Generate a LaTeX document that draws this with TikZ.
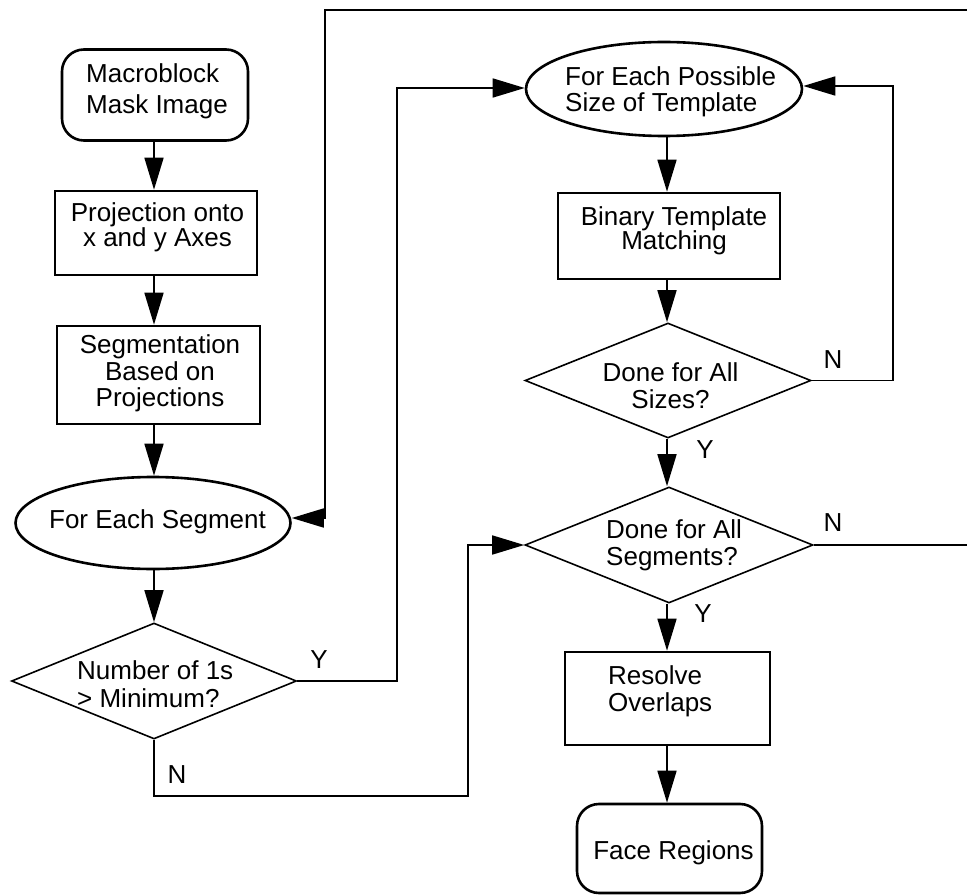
\documentclass[tikz,border=0pt]{standalone}
\usepackage{fontspec}
\setmainfont{Liberation Sans}
\usetikzlibrary{shapes.geometric,arrows.meta}
\newcommand\fsz[1]{\fontsize{26}{#1}\selectfont}
\begin{document}
\begin{tikzpicture}[x=1pt,y=-1pt,
  shp/.style={draw, line width=2.6pt, inner sep=0pt},
  boxs/.style={shp, rectangle},
  term/.style={shp, rectangle, rounded corners=22pt},
  ell/.style={shp, ellipse},
  dia/.style={draw, line width=1.6pt, diamond, inner sep=0pt},
  txt/.style={inner sep=0pt, font=\fsz{26}},
  lbl/.style={inner sep=0pt, font=\fsz{26}},
  conn/.style={line width=1.7pt, -{Triangle[length=32pt,width=19pt]}},
]
\useasboundingbox (0,0) rectangle (967,896);

% left column
\node[term, minimum width=186pt, minimum height=91pt] (m) at (155,95) {};
\node[txt, anchor=west, align=left, font=\fsz{31}] (tm) at (86,91.75) {Macroblock\\Mask Image};
\node[boxs, minimum width=202pt, minimum height=84pt] (p) at (156,233) {};
\node[txt, align=center, font=\fsz{25}] (tp) at (157.5,227.75) {Projection onto\\x and y Axes};
\node[boxs, minimum width=203pt, minimum height=98pt] (s) at (158.5,375) {};
\node[txt, align=center, font=\fsz{26.5}] (ts) at (160,373.75) {Segmentation\\Based on\\Projections};
\node[ell, minimum width=275pt, minimum height=92pt] (e1) at (153,523) {};
\node[txt] (te1) at (157.5,522) {For Each Segment};
\node[dia, minimum width=285pt, minimum height=116pt] (d1) at (154,681) {};
\node[txt, anchor=west, align=left, font=\fsz{28}] (td1) at (77,684.5) {Number of 1s\\> Minimum?};

% right column
\node[ell, minimum width=276pt, minimum height=94pt] (e2) at (664,89) {};
\node[txt, anchor=west, align=left] (te2) at (565,92.25) {For Each Possible\\Size of Template};
\node[boxs, minimum width=222pt, minimum height=86pt] (b) at (669,236) {};
\node[txt, align=center, font=\fsz{24.5}] (tb) at (674,231) {Binary Template\\Matching};
\node[dia, minimum width=286pt, minimum height=115pt] (d2) at (668,380.5) {};
\node[txt, align=center, font=\fsz{27}] (td2) at (670.5,386) {Done for All\\Sizes?};
\node[dia, minimum width=288pt, minimum height=116pt] (d3) at (669,545) {};
\node[txt, anchor=west, align=left, font=\fsz{27}] (td3) at (606,545.75) {Done for All\\Segments?};
\node[boxs, minimum width=205pt, minimum height=93pt] (r) at (667.5,698.5) {};
\node[txt, anchor=west, align=left, font=\fsz{27}] (tr) at (608,691.75) {Resolve\\Overlaps};
\node[term, minimum width=185pt, minimum height=89pt] (f) at (669.5,848.5) {};
\node[txt] (tf) at (673.5,853) {Face Regions};

% branch labels
\node[lbl] (y1) at (319,659.5) {Y};
\node[lbl] (n1) at (177,775) {N};
\node[lbl] (n2) at (833,360) {N};
\node[lbl] (y2) at (705,450) {Y};
\node[lbl] (n3) at (833,523) {N};
\node[lbl] (y3) at (703,614) {Y};

% helper coordinates
\coordinate (L) at (154,0);
\coordinate (R) at (667,0);
\coordinate (c2) at (397,88);
\coordinate (c4) at (468,796);
\coordinate (c7) at (972,10);
\coordinate (c8) at (325,10);
\coordinate (c9) at (325,518);
\coordinate (c11) at (893,86);

% vertical flow, left
\draw[conn] (m.south -| L) -- (p.north -| L);
\draw[conn] (p.south -| L) -- (s.north -| L);
\draw[conn] (s.south -| L) -- (e1.north -| L);
\draw[conn] (e1.south -| L) -- (d1.north -| L);
% vertical flow, right
\draw[conn] (e2.south -| R) -- (b.north -| R);
\draw[conn] (b.south -| R) -- (d2.north -| R);
\draw[conn] (d2.south -| R) -- (d3.north -| R);
\draw[conn] (d3.south -| R) -- (r.north -| R);
\draw[conn] (r.south -| R) -- (f.north -| R);

% loops and branches
\draw[conn] (d1.east) -| (c2) -- (e2.west |- c2);
\draw[conn] (d1.south) |- (c4) |- (d3.west);
\draw[conn] (d3.east) -| (c7) -- (c8) -- (c9) -- (e1.east |- c9);
\draw[conn] (d2.east) -| (c11) -- (e2.east |- c11);
\end{tikzpicture}
\end{document}
